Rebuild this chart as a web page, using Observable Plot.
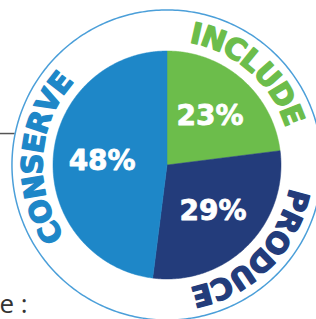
<!DOCTYPE html>
<html><head><meta charset="utf-8">
<script src="https://cdn.jsdelivr.net/npm/d3@7"></script>
<script src="https://cdn.jsdelivr.net/npm/@observablehq/plot@0.6"></script>
<style>body{margin:0;background:#fff;overflow:hidden}#chart{width:316px;height:319px}</style>
</head><body><div id="chart"></div>
<script>
const names = ["INCLUDE", "PRODUCE", "CONSERVE"];
const values = [23, 29, 48];
const labels = ["23%", "29%", "48%"];
const colors = ["#6cbd4b", "#233c7b", "#1e87c8"];
const ringColor = "#4b9fd9";
const sideNote = "e :";

const unitPx = 114;
const ringR = 1.36, letterR = 1.175, labelR = 0.57, arcFont = 29;
const pie = d3.pie().sort(null).value(d => d)(values);
const pt = (a, r) => ({x: r * Math.sin(a), y: r * Math.cos(a)});

const slices = pie.map((p, i) => {
  const pts = [{x: 0, y: 0}];
  const n = Math.ceil((p.endAngle - p.startAngle) / 0.01);
  for (let k = 0; k <= n; k++) pts.push(pt(p.startAngle + (p.endAngle - p.startAngle) * k / n, 1));
  pts.push({x: 0, y: 0});
  return pts;
});
const ring = d3.range(0, 361).map(k => pt(k * Math.PI / 180, ringR));
const labelPts = pie.map((p, i) => ({...pt((p.startAngle + p.endAngle) / 2, labelR), text: labels[i]}));

// letters of the curved names, laid along the circle
const ctx = document.createElement("canvas").getContext("2d");
ctx.font = `bold ${arcFont}px "DejaVu Sans"`;
const letters = [];
pie.forEach((p, i) => {
  const mid = (p.startAngle + p.endAngle) / 2;
  const chars = [...names[i]];
  const ws = chars.map(c => ctx.measureText(c).width + 0.5);
  let s = -d3.sum(ws) / 2;
  chars.forEach((c, k) => {
    const a = mid + (s + ws[k] / 2) / (letterR * unitPx);
    s += ws[k];
    letters.push({...pt(a, letterR), ch: c, rot: a * 180 / Math.PI, color: colors[i]});
  });
});

const ruleY = 0.276;
const chart = Plot.plot({
  width: 316, height: 319,
  margin: 0,
  x: {domain: [-166.5 / unitPx, 149.5 / unitPx], range: [0, 316], axis: null},
  y: {domain: [-154.5 / unitPx, 164.5 / unitPx], range: [319, 0], axis: null},
  color: {type: "identity"},
  marks: [
    Plot.ruleY([ruleY], {x1: -166.5 / unitPx, x2: -Math.sqrt(ringR * ringR - ruleY * ruleY), stroke: "#555", strokeWidth: 1.5}),
    Plot.line(ring, {x: "x", y: "y", stroke: ringColor, strokeWidth: 1.5}),
    ...slices.map((s, i) => Plot.line(s, {x: "x", y: "y", fill: colors[i], stroke: colors[i], strokeWidth: 0.5})),
    Plot.text(labelPts, {x: "x", y: "y", text: "text", fill: "white", stroke: "white", strokeWidth: 0.8, fontSize: 28, fontWeight: "bold", fontFamily: "DejaVu Sans"}),
    Plot.text(letters, {x: "x", y: "y", text: "ch", rotate: "rot", fill: "color", stroke: "color", strokeWidth: 1.4, fontSize: arcFont, fontWeight: "bold", fontFamily: "DejaVu Sans"}),
    Plot.text([sideNote], {frameAnchor: "bottom-left", text: d => d, fontSize: 26, fontFamily: "Open Sans", fill: "#333", dx: -1, dy: -7, textAnchor: "start", lineAnchor: "bottom"})
  ]
});
document.getElementById("chart").append(chart);
</script>
</body></html>
